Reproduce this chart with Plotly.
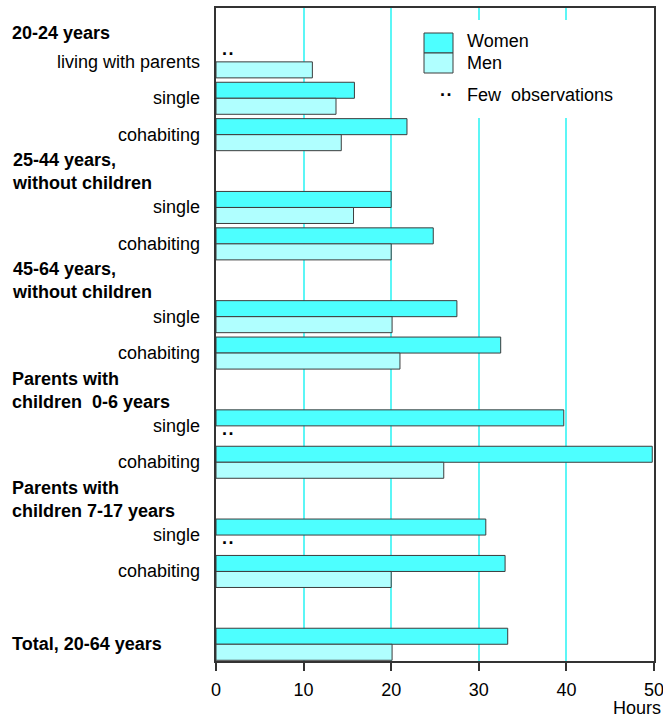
import plotly.graph_objects as go

# Weekly hours of housework by life stage and sex
group_titles = [
    "20-24 years",
    "25-44 years,<br>without children",
    "45-64 years,<br>without children",
    "Parents with<br>children\u00a0 0-6 years",
    "Parents with<br>children 7-17 years",
    "Total, 20-64 years",
]
group_items = [
    ["living with parents", "single", "cohabiting"],
    ["single", "cohabiting"],
    ["single", "cohabiting"],
    ["single", "cohabiting"],
    ["single", "cohabiting"],
    [""],
]
# None = few observations
women = [None, 15.8, 21.8, 20.0, 24.8, 27.5, 32.5, 39.7, 49.8, 30.8, 33.0, 33.3]
men = [11.0, 13.7, 14.3, 15.7, 20.0, 20.1, 21.0, None, 26.0, None, 20.0, 20.1]
x_ticks = [0, 10, 20, 30, 40, 50]

WOMEN_COLOR = "#4DFFFF"
MEN_COLOR = "#B0FFFF"
EDGE = "#3C3C3C"
FONT = "Liberation Sans, Arial, sans-serif"
FS = 18
BAR_W = 0.44
FEW = "<b>.\u200a.</b>"

# Row layout: each group's header takes one row before its items
rows, labels, headers = [], [], []
r = 0
for gi, (title, items) in enumerate(zip(group_titles, group_items)):
    if gi > 0:
        r += 2
    if gi == len(group_titles) - 1:
        # Total row: title sits beside its bars
        headers.append((title, r - BAR_W / 2))
    elif "<br>" in title:
        headers.append((title, r - 1.2))
    else:
        headers.append((title, r - 1.0))
    for k, item in enumerate(items):
        if k > 0:
            r += 1
        rows.append(r)
        labels.append(item)

y_men = rows
y_women = [v - BAR_W for v in rows]

fig = go.Figure()
fig.add_trace(go.Bar(
    name="Women", orientation="h", x=women, y=y_women, width=BAR_W,
    marker=dict(color=WOMEN_COLOR, line=dict(color=EDGE, width=1)),
))
fig.add_trace(go.Bar(
    name="Men", orientation="h", x=men, y=y_men, width=BAR_W,
    marker=dict(color=MEN_COLOR, line=dict(color=EDGE, width=1)),
))

annotations = []
# item labels
for lab, yr in zip(labels, rows):
    if lab:
        annotations.append(dict(
            x=0, xref="paper", xshift=-14, xanchor="right",
            y=yr - BAR_W / 2, yref="y", yanchor="middle",
            text=lab, showarrow=False, font=dict(size=FS, color="black"),
        ))
# group headers
for title, yh in headers:
    annotations.append(dict(
        x=0, xref="paper", xshift=-206, xanchor="left",
        y=yh, yref="y", yanchor="middle", align="left",
        text="<b>" + title + "</b>", showarrow=False,
        font=dict(size=FS, color="black"),
    ))
# few-observation markers
for vals, ys in ((women, y_women), (men, y_men)):
    for v, yy in zip(vals, ys):
        if v is None:
            annotations.append(dict(
                x=0, xref="x", xshift=4, xanchor="left",
                y=yy, yref="y", yanchor="middle", yshift=5,
                text=FEW, showarrow=False,
                font=dict(size=FS, color="black"),
            ))

# legend
def px_x(p):
    return (p - 216) / 438

def px_y(p):
    return 1 - (p - 8) / 653

shapes = [
    dict(type="rect", xref="paper", yref="paper", layer="above",
         x0=px_x(400), x1=px_x(645), y0=px_y(118), y1=px_y(20),
         fillcolor="white", line=dict(width=0)),
    dict(type="rect", xref="paper", yref="paper", layer="above",
         x0=px_x(424), x1=px_x(453), y0=px_y(53), y1=px_y(33),
         fillcolor=WOMEN_COLOR, line=dict(color=EDGE, width=1)),
    dict(type="rect", xref="paper", yref="paper", layer="above",
         x0=px_x(424), x1=px_x(453), y0=px_y(73), y1=px_y(53),
         fillcolor=MEN_COLOR, line=dict(color=EDGE, width=1)),
]
for txt, yp in (("Women", 41), ("Men", 63), ("Few\u00a0 observations", 95)):
    annotations.append(dict(
        x=px_x(465), xref="paper", xanchor="left",
        y=px_y(yp), yref="paper", yanchor="middle",
        text=txt, showarrow=False, font=dict(size=FS, color="black"),
    ))
annotations.append(dict(
    x=px_x(438), xref="paper", xanchor="left",
    y=px_y(95), yref="paper", yanchor="middle", yshift=5,
    text=FEW, showarrow=False, font=dict(size=FS, color="black"),
))
annotations.append(dict(
    x=1, xref="paper", xshift=9, xanchor="right",
    y=0, yref="paper", yshift=-47, yanchor="middle",
    text="Hours", showarrow=False, font=dict(size=FS, color="black"),
))

fig.update_layout(
    width=663, height=718,
    margin=dict(l=216, r=9, t=8, b=57),
    plot_bgcolor="white", paper_bgcolor="white",
    barmode="overlay", showlegend=False,
    font=dict(family=FONT, size=FS, color="black"),
    annotations=annotations, shapes=shapes,
    xaxis=dict(
        range=[0, 50], tickvals=x_ticks, ticktext=[str(t) for t in x_ticks],
        showgrid=True, gridcolor="#5CF6F6", gridwidth=1.5, zeroline=False,
        showline=True, linecolor="#333333", linewidth=1.5, mirror=True,
        ticks="outside", ticklen=8, tickcolor="#333333", tickwidth=1.5,
        ticklabelstandoff=4, tickfont=dict(size=FS, color="black"),
        ticklabeloverflow="allow", automargin=False,
    ),
    yaxis=dict(
        range=[16.24, -1.70], showticklabels=False, ticks="",
        showgrid=False, zeroline=False, automargin=False,
        showline=True, linecolor="#333333", linewidth=1.5, mirror=True,
    ),
)

fig.write_html("out.html")
